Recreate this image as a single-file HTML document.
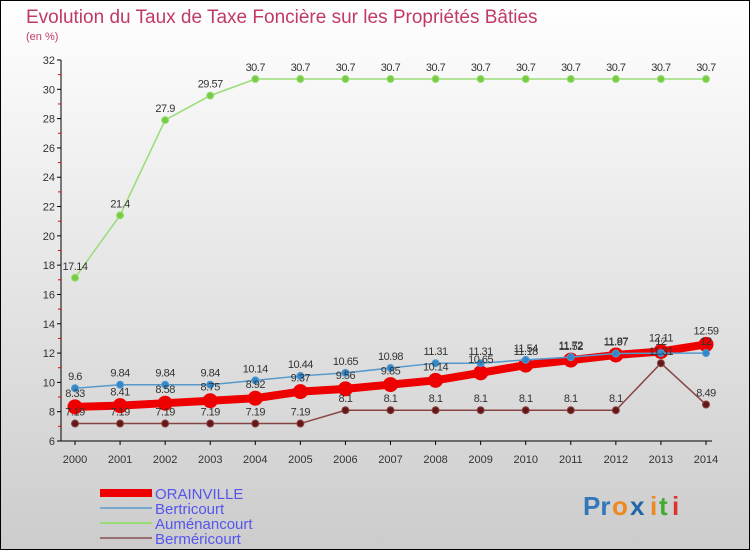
<!DOCTYPE html>
<html><head><meta charset="utf-8"><style>
body{margin:0;width:750px;height:550px;overflow:hidden;font-family:"Liberation Sans",sans-serif}
</style></head><body>
<svg id="chart" width="750" height="550" xmlns="http://www.w3.org/2000/svg">
<defs><linearGradient id="bg" x1="0" y1="0" x2="0" y2="1"><stop offset="0" stop-color="#ffffff"/><stop offset="1" stop-color="#cccccc"/></linearGradient></defs>
<rect x="0" y="0" width="750" height="550" fill="url(#bg)" stroke="#000" stroke-width="2"/>
<text x="26" y="23" font-size="19" fill="#c03a64">Evolution du Taux de Taxe Foncière sur les Propriétés Bâties</text>
<text x="26" y="40" font-size="11" fill="#c03a64">(en %)</text>
<g id="axes"></g><g id="series"></g><g id="labels"></g>
<g>
<rect x="100" y="489" width="52" height="8" fill="#ee0000"/>
<line x1="100" y1="508" x2="152" y2="508" stroke="#7aa8cc" stroke-width="2"/>
<line x1="100" y1="523" x2="152" y2="523" stroke="#99dd77" stroke-width="2"/>
<line x1="100" y1="538" x2="152" y2="538" stroke="#997070" stroke-width="2"/>
<text x="155" y="499" font-size="15" fill="#5555ee">ORAINVILLE</text>
<text x="155" y="514" font-size="15" fill="#5555ee">Bertricourt</text>
<text x="155" y="529" font-size="15" fill="#5555ee">Auménancourt</text>
<text x="155" y="544" font-size="15" fill="#5555ee">Berméricourt</text>
</g>
<g font-size="26" font-weight="bold">
<text x="583" y="515" fill="#3377bb">Pr</text><text x="612" y="515" fill="#ee8822">o</text><text x="630" y="515" fill="#2266aa">x</text><text x="650" y="515" fill="#ee8822">i</text><text x="659" y="515" fill="#44aa33">t</text><text x="672" y="515" fill="#dd3333">i</text>
</g>
</svg>
<script>
const years=[2000,2001,2002,2003,2004,2005,2006,2007,2008,2009,2010,2011,2012,2013,2014];
const yTicks=[6,8,10,12,14,16,18,20,22,24,26,28,30,32];
const orainville=[8.33,8.41,8.58,8.75,8.92,9.37,9.56,9.85,10.14,10.65,11.18,11.52,11.87,12.11,12.59];
const bertricourt=[9.6,9.84,9.84,9.84,10.14,10.44,10.65,10.98,11.31,11.31,11.54,11.72,11.97,12,12];
const aumenancourt=[17.14,21.4,27.9,29.57,30.7,30.7,30.7,30.7,30.7,30.7,30.7,30.7,30.7,30.7,30.7];
const bermericourt=[7.19,7.19,7.19,7.19,7.19,7.19,8.1,8.1,8.1,8.1,8.1,8.1,8.1,11.31,8.49];
const NS="http://www.w3.org/2000/svg";
const X=i=>75+i*(631/(years.length-1));
const Y=v=>441-(v-6)*(381/26);
function mk(t,a,p){const e=document.createElementNS(NS,t);for(const k in a)e.setAttribute(k,a[k]);p.appendChild(e);return e;}
const ax=document.getElementById('axes'),se=document.getElementById('series'),lb=document.getElementById('labels');
const yl=mk('line',{x1:61,y1:Y(32),x2:61,y2:Y(6),stroke:'#000'},ax);


const xl=mk('line',{x1:61,y1:Y(6),x2:712,y2:Y(6),stroke:'#000'},ax);


yTicks.forEach(v=>{
  mk('line',{x1:57,y1:Y(v),x2:61,y2:Y(v),stroke:'#000'},ax);
  if(v<32)mk('line',{x1:58,y1:Y(v+1),x2:61,y2:Y(v+1),stroke:'#e00'},ax);
  const t=mk('text',{x:55,y:Y(v)+4,'font-size':11,'text-anchor':'end',fill:'#333'},ax);
  t.textContent=v;
  
  
});
years.forEach((yr,i)=>{
  mk('line',{x1:X(i),y1:Y(6),x2:X(i),y2:Y(6)+4,stroke:'#000'},ax);
  const t=mk('text',{x:X(i),y:Y(6)+22,'font-size':11,'text-anchor':'middle',fill:'#333'},ax);
  t.textContent=yr;
  
  
});
function series(vals,name,color,w,r,dot,labDy){
  const pl=mk('polyline',{points:vals.map((v,i)=>X(i)+','+Y(v)).join(' '),fill:'none',stroke:color,'stroke-width':w},se);
  
  
  vals.forEach((v,i)=>{
    const c=mk('circle',{cx:X(i),cy:Y(v),r:r,fill:dot,stroke:color,'stroke-width':1},se);
    
    
    const t=mk('text',{x:X(i),y:Y(v)+labDy,'font-size':11,'text-anchor':'middle',fill:'#333','letter-spacing':'-0.5'},lb);
    t.textContent=v;
    
    
  });
}
series(bermericourt,'bermericourt','#884444',1.5,3.5,'#661818',-8);
series(aumenancourt,'aumenancourt','#99dd77',1.5,3.5,'#77cc44',-8);
series(orainville,'orainville','#ee0000',8,7,'#ee0000',-10);
series(bertricourt,'bertricourt','#5599cc',1.5,3.5,'#3388cc',-8);
</script>
</body></html>
